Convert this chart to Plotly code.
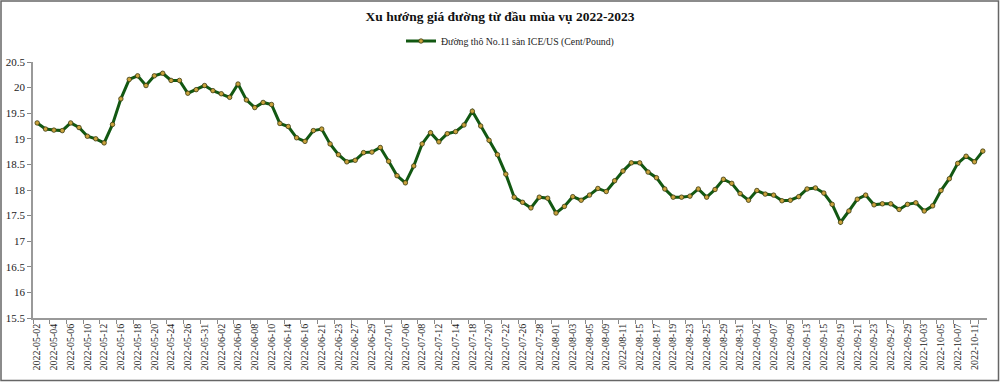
import plotly.graph_objects as go

dates = [
    "2022-05-02","2022-05-03","2022-05-04","2022-05-05","2022-05-06","2022-05-09","2022-05-10","2022-05-11","2022-05-12","2022-05-13",
    "2022-05-16","2022-05-17","2022-05-18","2022-05-19","2022-05-20","2022-05-23","2022-05-24","2022-05-25","2022-05-26","2022-05-27",
    "2022-05-31","2022-06-01","2022-06-02","2022-06-03","2022-06-06","2022-06-07","2022-06-08","2022-06-09","2022-06-10","2022-06-13",
    "2022-06-14","2022-06-15","2022-06-16","2022-06-17","2022-06-21","2022-06-22","2022-06-23","2022-06-24","2022-06-27","2022-06-28",
    "2022-06-29","2022-06-30","2022-07-01","2022-07-05","2022-07-06","2022-07-07","2022-07-08","2022-07-11","2022-07-12","2022-07-13",
    "2022-07-14","2022-07-15","2022-07-18","2022-07-19","2022-07-20","2022-07-21","2022-07-22","2022-07-25","2022-07-26","2022-07-27",
    "2022-07-28","2022-07-29","2022-08-01","2022-08-02","2022-08-03","2022-08-04","2022-08-05","2022-08-08","2022-08-09","2022-08-10",
    "2022-08-11","2022-08-12","2022-08-15","2022-08-16","2022-08-17","2022-08-18","2022-08-19","2022-08-22","2022-08-23","2022-08-24",
    "2022-08-25","2022-08-26","2022-08-29","2022-08-30","2022-08-31","2022-09-01","2022-09-02","2022-09-06","2022-09-07","2022-09-08",
    "2022-09-09","2022-09-12","2022-09-13","2022-09-14","2022-09-15","2022-09-16","2022-09-19","2022-09-20","2022-09-21","2022-09-22",
    "2022-09-23","2022-09-26","2022-09-27","2022-09-28","2022-09-29","2022-09-30","2022-10-03","2022-10-04","2022-10-05","2022-10-06",
    "2022-10-07","2022-10-10","2022-10-11","2022-10-12",
]

prices = [
    19.31, 19.19, 19.17, 19.16, 19.31, 19.22, 19.05, 19.00, 18.92, 19.28,
    19.78, 20.16, 20.23, 20.04, 20.23, 20.28, 20.14, 20.14, 19.89, 19.96,
    20.04, 19.94, 19.88, 19.81, 20.07, 19.76, 19.61, 19.71, 19.67, 19.30,
    19.24, 19.02, 18.95, 19.16, 19.19, 18.90, 18.69, 18.55, 18.58, 18.73,
    18.74, 18.83, 18.56, 18.28, 18.14, 18.47, 18.90, 19.12, 18.94, 19.10,
    19.14, 19.27, 19.54, 19.25, 18.97, 18.69, 18.31, 17.86, 17.76, 17.65,
    17.86, 17.84, 17.55, 17.68, 17.87, 17.80, 17.90, 18.03, 17.97, 18.18,
    18.37, 18.53, 18.53, 18.35, 18.24, 18.02, 17.86, 17.86, 17.88, 18.02,
    17.86, 18.01, 18.21, 18.13, 17.93, 17.80, 17.99, 17.92, 17.90, 17.79,
    17.80, 17.87, 18.02, 18.04, 17.94, 17.72, 17.37, 17.59, 17.82, 17.90,
    17.71, 17.73, 17.73, 17.62, 17.72, 17.75, 17.59, 17.69, 17.99, 18.22,
    18.52, 18.66, 18.55, 18.76,
]

series_name = "Đường thô No.11 sàn ICE/US (Cent/Pound)"
title_text = "Xu hướng giá đường từ đầu mùa vụ 2022-2023"
y_ticks = [15.5, 16, 16.5, 17, 17.5, 18, 18.5, 19, 19.5, 20, 20.5]

FONT = "Liberation Serif, Times New Roman, serif"

fig = go.Figure()
fig.add_trace(go.Scatter(
    x=dates, y=prices, mode="lines+markers", name=series_name,
    line=dict(color="#125812", width=3),
    marker=dict(size=4.5, color="#c9a23c", line=dict(color="#3b3b10", width=0.8)),
))

W, H = 1000, 382
L, R, T, B = 33, 13, 62, 64
pw, ph = W - L - R, H - T - B

def px_x(p):
    return (p - L) / pw

def px_y(p):
    return (H - B - p) / ph

fig.update_layout(
    width=W, height=H,
    margin=dict(l=L, r=R, t=T, b=B, autoexpand=False),
    paper_bgcolor="white", plot_bgcolor="white",
    font=dict(family=FONT, color="#222", size=11),
    title=dict(text="<b>" + title_text + "</b>", x=0.5, xanchor="center",
               y=1 - 16 / H, yanchor="middle", yref="container",
               font=dict(family=FONT, size=13.5, color="#111")),
    showlegend=True,
    legend=dict(orientation="h", x=0.5, xanchor="center", y=px_y(41), yanchor="middle",
                font=dict(family=FONT, size=9.8, color="#222"), bgcolor="rgba(0,0,0,0)",
                itemwidth=30, tracegroupgap=0),
    xaxis=dict(
        type="category", categoryorder="array", categoryarray=dates,
        range=[-0.5, len(dates) - 0.5], automargin=False,
        tickmode="array", tickvals=dates[::2], ticktext=dates[::2],
        tickangle=-90, tickfont=dict(family=FONT, size=10, color="#222"),
        ticks="outside", ticklen=4, tickcolor="#888", tickson="boundaries",
        showline=True, linecolor="#999", linewidth=1.5, showgrid=False, zeroline=False,
    ),
    yaxis=dict(
        range=[15.5, 20.5], tickmode="array", tickvals=y_ticks, automargin=False,
        ticktext=[("%g" % v) for v in y_ticks],
        tickfont=dict(family=FONT, size=11, color="#222"),
        ticks="outside", ticklen=4, tickcolor="#888",
        showline=True, linecolor="#999", linewidth=1.5, showgrid=False, zeroline=False,
    ),
    shapes=[dict(type="rect", xref="paper", yref="paper",
                 x0=px_x(1), x1=px_x(998.5), y0=px_y(380.5), y1=px_y(1),
                 line=dict(color="#666", width=1.5), fillcolor="rgba(0,0,0,0)", layer="above")],
)

fig.write_html("out.html", config={"displayModeBar": False},
               post_script="document.body.style.margin='0';")
